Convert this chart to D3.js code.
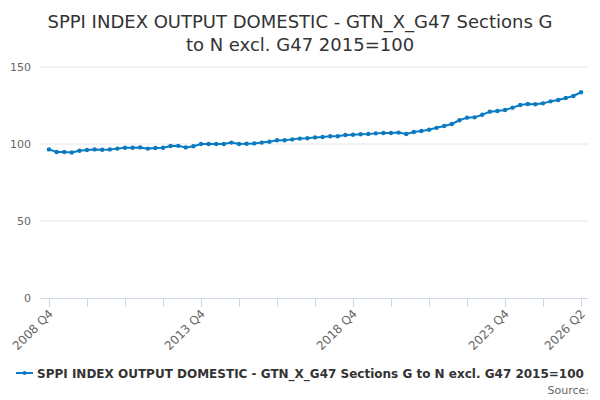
<!DOCTYPE html>
<html>
<head>
<meta charset="utf-8">
<script src="https://cdn.jsdelivr.net/npm/d3@7"></script>
<style>
  body { margin: 0; background: #fff; }
  svg { font-family: "DejaVu Sans", sans-serif; }
</style>
</head>
<body>
<div id="chart"></div>
<script>
// Quarterly index values, 2008 Q4 to 2026 Q2
var indexValues = [
  96.5, 94.8, 94.8, 94.5, 95.6, 96.1, 96.5, 96.3, 96.5, 97.0,
  97.6, 97.6, 97.8, 97.0, 97.4, 97.6, 98.7, 98.8, 97.8, 98.5,
  100.0, 100.0, 100.0, 100.0, 100.9, 100.0, 100.2, 100.4, 100.9, 101.5,
  102.4, 102.4, 103.0, 103.5, 103.7, 104.3, 104.5, 105.0, 105.0, 105.8,
  106.0, 106.3, 106.5, 106.9, 107.1, 107.1, 107.4, 106.5, 107.8, 108.4,
  109.3, 110.5, 111.7, 113.0, 115.4, 117.1, 117.3, 119.0, 121.0, 121.4,
  122.1, 123.6, 125.3, 126.0, 125.8, 126.4, 127.7, 128.6, 129.9, 131.2,
  133.6
];

// Category labels: one per quarter
var quarters = [];
for (var y = 2008, q = 4; quarters.length < indexValues.length; ) {
  quarters.push(y + " Q" + q);
  q++;
  if (q > 4) { q = 1; y++; }
}

var yTicks = [0, 50, 100, 150];
var labelledQuarters = ["2008 Q4", "2013 Q4", "2018 Q4", "2023 Q4", "2026 Q2"];
var seriesName = "SPPI INDEX OUTPUT DOMESTIC - GTN_X_G47 Sections G to N excl. G47 2015=100";
var titleLines = ["SPPI INDEX OUTPUT DOMESTIC - GTN_X_G47 Sections G", "to N excl. G47 2015=100"];

var svgWidth = 600;
var svgHeight = 400;
var lineColor = "#0b7bc1";

var svg = d3.select("#chart")
  .append("svg")
  .attr("width", svgWidth)
  .attr("height", svgHeight);

// Title
svg.append("text")
  .attr("x", 300)
  .attr("y", 28)
  .attr("text-anchor", "middle")
  .attr("font-size", "18px")
  .attr("fill", "#333333")
  .selectAll("tspan")
  .data(titleLines)
  .enter()
  .append("tspan")
  .attr("x", 300)
  .attr("dy", function(d, i) { return i === 0 ? 0 : 23; })
  .text(function(d) { return d; });

var xScale = d3.scalePoint()
  .domain(quarters)
  .range([49, 581]);

var yScale = d3.scaleLinear()
  .domain([0, 150])
  .range([298, 67]);

// Gridlines
svg.append("g")
  .selectAll("line")
  .data(yTicks.filter(function(d) { return d > 0; }))
  .enter()
  .append("line")
  .attr("x1", 40)
  .attr("x2", 588)
  .attr("y1", function(d) { return yScale(d); })
  .attr("y2", function(d) { return yScale(d); })
  .attr("stroke", "#e6e6e6")
  .attr("stroke-width", 1);

// Y axis labels
var leftAxis = d3.axisLeft(yScale).tickValues(yTicks).tickSize(0).tickPadding(0);
var yAxisG = svg.append("g")
  .attr("transform", "translate(31,0)")
  .call(leftAxis);
yAxisG.select(".domain").remove();
yAxisG.selectAll("text")
  .attr("font-size", "11px")
  .attr("fill", "#666666")
  .attr("font-family", "DejaVu Sans, sans-serif");

// X axis
var tickQuarters = quarters.filter(function(d, i) { return i % 5 === 0; });
var bottomAxis = d3.axisBottom(xScale)
  .tickValues(tickQuarters)
  .tickSize(9)
  .tickFormat(function(d) { return labelledQuarters.indexOf(d) >= 0 ? d : ""; });

var xAxisG = svg.append("g")
  .attr("transform", "translate(0,298)")
  .call(bottomAxis);
xAxisG.select(".domain")
  .attr("d", "M40,0.5H588")
  .attr("stroke", "#ccd6eb");
xAxisG.selectAll(".tick line").attr("stroke", "#ccd6eb");
xAxisG.selectAll("text")
  .attr("font-size", "12px")
  .attr("fill", "#666666")
  .attr("font-family", "DejaVu Sans, sans-serif")
  .attr("text-anchor", "end")
  .attr("dy", "0")
  .attr("transform", "translate(-4,8) rotate(-45)");

// Line
var line = d3.line()
  .x(function(d, i) { return xScale(quarters[i]); })
  .y(function(d) { return yScale(d); });

svg.append("path")
  .datum(indexValues)
  .attr("d", line)
  .attr("fill", "none")
  .attr("stroke", lineColor)
  .attr("stroke-width", 2);

svg.append("g")
  .selectAll("circle")
  .data(indexValues)
  .enter()
  .append("circle")
  .attr("cx", function(d, i) { return xScale(quarters[i]); })
  .attr("cy", function(d) { return yScale(d); })
  .attr("r", 2.2)
  .attr("fill", lineColor);

// Legend
var legend = svg.append("g").attr("transform", "translate(16,373)");
legend.append("line")
  .attr("x1", 0).attr("x2", 17)
  .attr("y1", 0).attr("y2", 0)
  .attr("stroke", lineColor)
  .attr("stroke-width", 2);
legend.append("circle")
  .attr("cx", 8.5).attr("cy", 0).attr("r", 2)
  .attr("fill", lineColor);
legend.append("text")
  .attr("x", 21)
  .attr("y", 4.5)
  .attr("font-size", "12px")
  .attr("font-weight", "bold")
  .attr("fill", "#333333")
  .text(seriesName);

// Source credit
svg.append("text")
  .attr("x", 589)
  .attr("y", 394)
  .attr("text-anchor", "end")
  .attr("font-size", "11px")
  .attr("fill", "#666666")
  .text("Source:");
</script>
</body>
</html>
